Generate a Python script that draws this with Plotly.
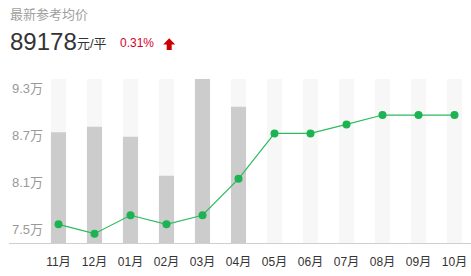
import plotly.graph_objects as go

months = ["11月", "12月", "01月", "02月", "03月", "04月", "05月", "06月", "07月", "08月", "09月", "10月"]
price = [75600, 74400, 76750, 75600, 76750, 81400, 87200, 87200, 88350, 89550, 89550, 89550]
volume = [675, 709, 648, 410, 1000, 831, 0, 0, 0, 0, 0, 0]
volume_max = [1000] * 12
price_ticks = [75000, 81000, 87000, 93000]
price_tick_text = ["7.5万", "8.1万", "8.7万", "9.3万"]
current_price = "89178"
change = "0.31%"

W_, H_ = 471, 276
L, R, T, B = 9, 0, 79, 33
PW, PH = W_ - L - R, H_ - T - B

def px(x):
    return (x - L) / PW

def py(y):
    return (H_ - B - y) / PH

FONT = "Liberation Sans, Arial, Noto Sans CJK SC, sans-serif"

fig = go.Figure()
fig.add_trace(go.Bar(x=months, y=volume_max, marker=dict(color="#f7f7f7", line_width=0),
                     width=0.42, yaxis="y", hoverinfo="skip"))
fig.add_trace(go.Bar(x=months, y=volume, marker=dict(color="#cccccc", line_width=0),
                     width=0.42, yaxis="y"))
fig.add_trace(go.Scatter(x=months, y=price, mode="lines+markers", yaxis="y2",
                         line=dict(color="#2dbb5e", width=1.2),
                         marker=dict(color="#1db352", size=8)))

fig.update_layout(
    width=W_, height=H_,
    margin=dict(l=L, r=R, t=T, b=B),
    paper_bgcolor="white", plot_bgcolor="white",
    showlegend=False, barmode="overlay",
    font=dict(family=FONT),
    xaxis=dict(type="category", range=[-1.375, 11.458], showgrid=False,
               showline=True, linecolor="#cfcfcf", linewidth=1,
               ticks="", ticklabelstandoff=8,
               tickfont=dict(size=12, color="#333333"), fixedrange=True),
    yaxis=dict(range=[0, 1000], visible=False, fixedrange=True),
    yaxis2=dict(overlaying="y", side="left", range=[73213, 94150],
                tickvals=price_ticks, ticktext=price_tick_text,
                ticklabelposition="inside", showgrid=False, zeroline=False,
                showline=False, ticks="",
                tickfont=dict(size=13, color="#999999"), fixedrange=True),
)

fig.add_annotation(text="最新参考均价", xref="paper", yref="paper", x=px(8), y=py(14),
                   xanchor="left", yanchor="middle", showarrow=False,
                   font=dict(size=13, color="#a0a0a0"))
fig.add_annotation(text=current_price, xref="paper", yref="paper", x=px(8), y=py(41),
                   xanchor="left", yanchor="middle", showarrow=False,
                   font=dict(size=24, color="#333333"))
fig.add_annotation(text="元/平", xref="paper", yref="paper", x=px(75), y=py(43),
                   xanchor="left", yanchor="middle", showarrow=False,
                   font=dict(size=13, color="#333333"))
fig.add_annotation(text=change, xref="paper", yref="paper", x=px(118), y=py(43),
                   xanchor="left", yanchor="middle", showarrow=False,
                   font=dict(size=12, color="#d6002a"))

# up arrow icon
arrow_pts = [(169.2, 38.3), (175.2, 44.5), (171.7, 44.5), (171.7, 50), (166.7, 50), (166.7, 44.5), (163.2, 44.5)]
path = "M " + " L ".join(f"{px(a):.5f},{py(b):.5f}" for a, b in arrow_pts) + " Z"
fig.add_shape(type="path", path=path, xref="paper", yref="paper",
              fillcolor="#cc0000", line=dict(width=0), layer="above")

fig.write_html("out.html", config={"displayModeBar": False})
